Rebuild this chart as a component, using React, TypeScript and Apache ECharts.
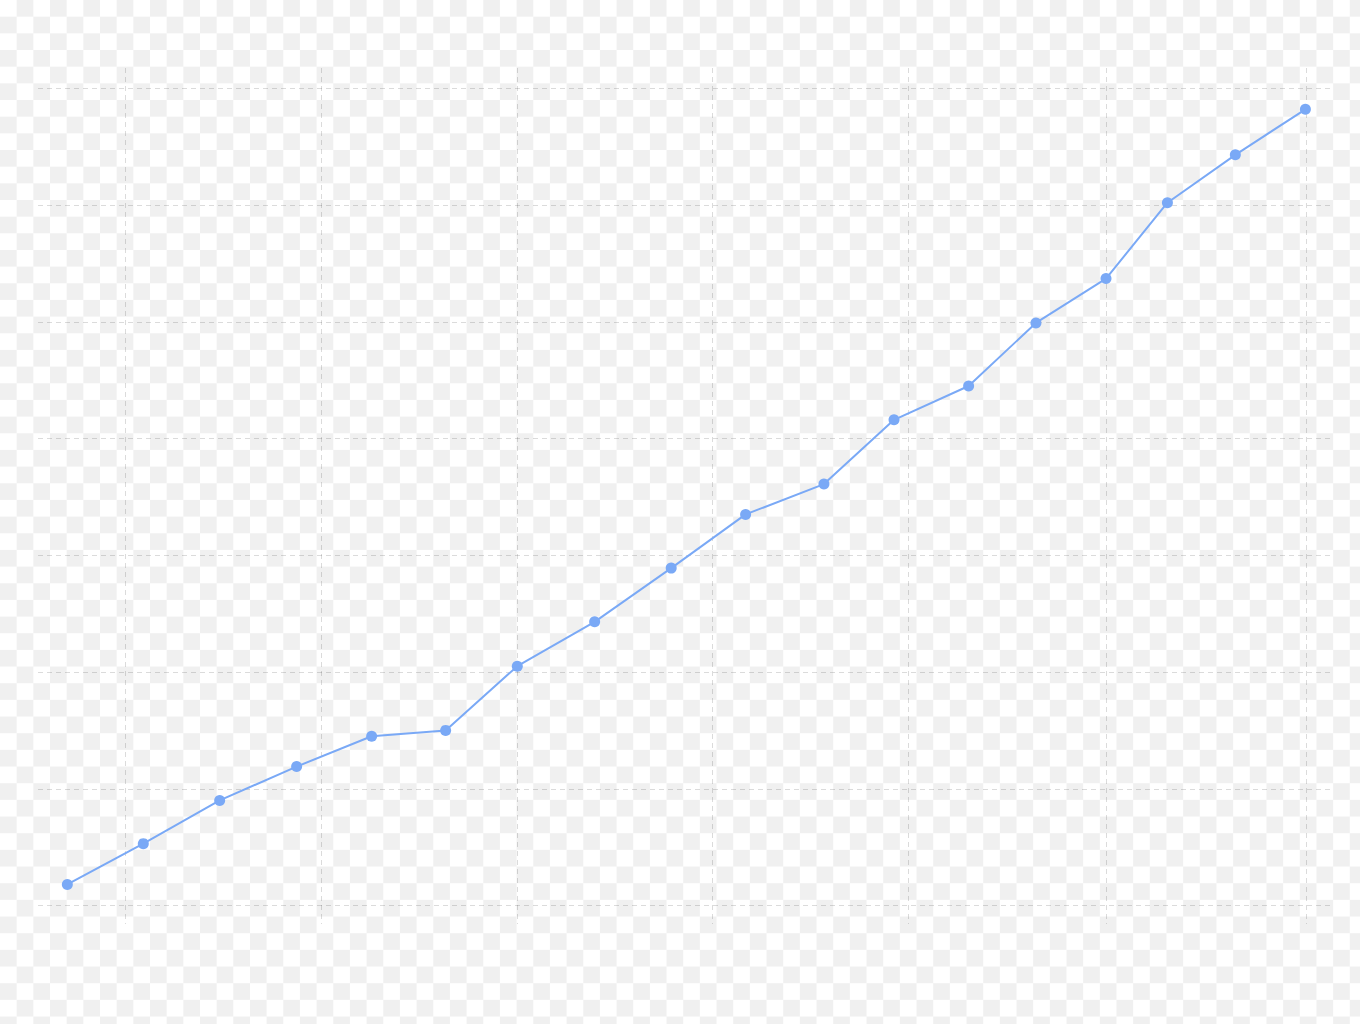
import React, { useEffect, useRef } from 'react'
import * as echarts from 'echarts'

// x: position along the period, y: cumulative value
const xValues = [-2.93, 0.93, 4.81, 8.72, 12.53, 16.29, 19.93, 23.86, 27.75, 31.53, 35.51, 39.07, 42.86, 46.28, 49.84, 52.96, 56.41, 59.97]
const yValues = [1.8, 5.3, 9.0, 11.9, 14.5, 15.0, 20.5, 24.3, 28.9, 33.5, 36.1, 41.6, 44.5, 49.9, 53.7, 60.2, 64.3, 68.2]
// vertical grid lines are not evenly spaced (period boundaries)
const xGridValues = [0, 9.96, 19.93, 29.81, 39.8, 49.84, 60]
const yTicks = { min: 0, max: 70, step: 10 }
const xRange = { min: -4.42, max: 61.22 }

const gridLine = { show: true, lineStyle: { color: 'rgba(0,0,0,0.14)', type: [5, 4], width: 1 } }
const hidden = { axisLine: { show: false }, axisLabel: { show: false } }

export default function App() {
  const ref = useRef<HTMLDivElement | null>(null)

  useEffect(() => {
    if (!ref.current) return
    const chart = echarts.init(ref.current, null, { renderer: 'svg' })
    chart.setOption({
      animation: false,
      backgroundColor: 'transparent',
      grid: [
        { left: 38, right: 30, top: 88.3, bottom: 118.5 },
        { left: 38, right: 30, top: 68, bottom: 100 },
      ],
      xAxis: [
        { type: 'value', gridIndex: 0, min: xRange.min, max: xRange.max, ...hidden, axisTick: { show: false }, splitLine: { show: false } },
        {
          type: 'value', gridIndex: 1, min: xRange.min, max: xRange.max, ...hidden,
          axisTick: { show: false, customValues: xGridValues },
          splitLine: gridLine,
        },
      ],
      yAxis: [
        {
          type: 'value', gridIndex: 0, min: yTicks.min, max: yTicks.max, interval: yTicks.step,
          ...hidden, axisTick: { show: false }, splitLine: gridLine,
        },
        { type: 'value', gridIndex: 1, min: 0, max: 1, ...hidden, axisTick: { show: false }, splitLine: { show: false } },
      ],
      series: [
        {
          type: 'line',
          xAxisIndex: 0,
          yAxisIndex: 0,
          data: xValues.map((x, i) => [x, yValues[i]]),
          symbol: 'circle',
          symbolSize: 11,
          lineStyle: { color: '#7aa9f6', width: 2 },
          itemStyle: { color: '#7aa9f6' },
        },
      ],
    } as any)
    return () => chart.dispose()
  }, [])

  return (
    <div
      style={{
        position: 'absolute', left: 0, top: 0, width: 1360, height: 1024,
        backgroundColor: '#fff',
        backgroundImage: 'repeating-conic-gradient(#f0f0f0 0 25%, #ffffff 0 50%)',
        backgroundSize: '33.33px 33.33px',
      }}
    >
      <div ref={ref} style={{ width: 1360, height: 1024 }} />
    </div>
  )
}
